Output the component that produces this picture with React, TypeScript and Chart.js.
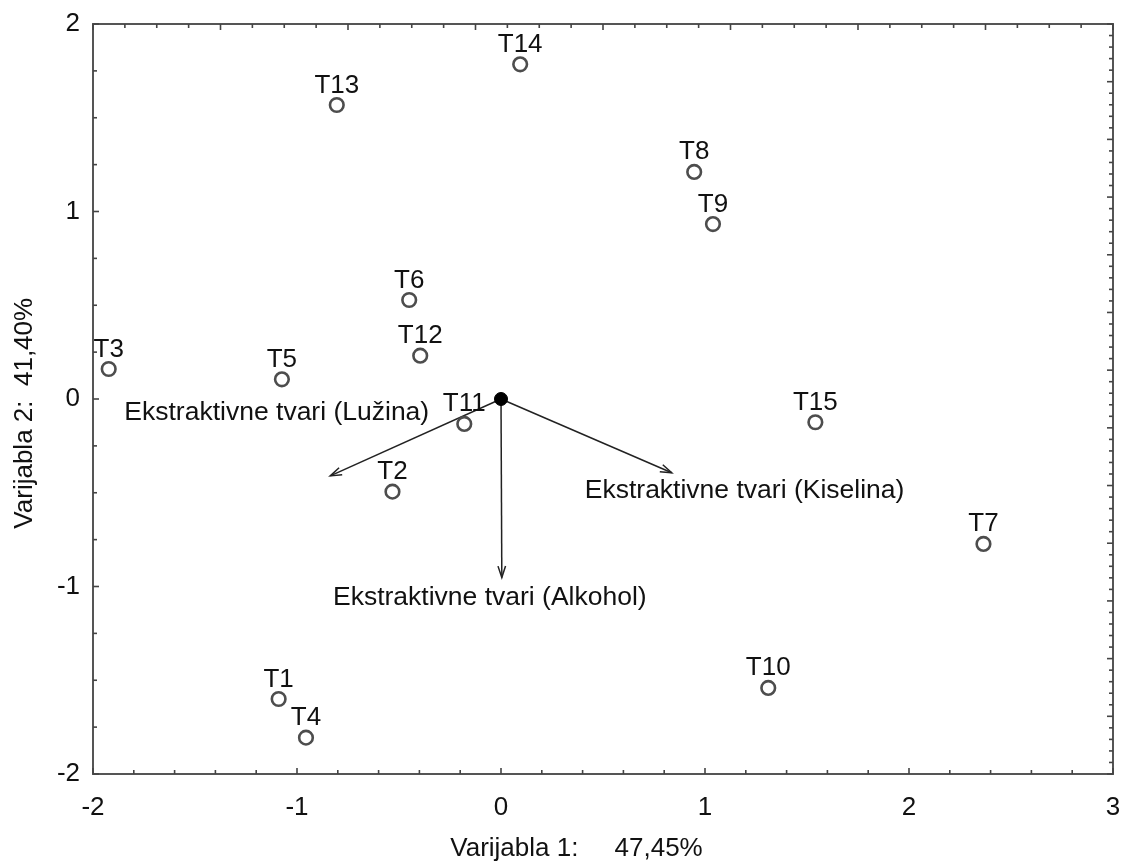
import { useEffect, useRef } from 'react';
import { Chart, registerables } from 'chart.js';

Chart.register(...registerables);

// ---- data ----
const pointLabels = ['T1', 'T2', 'T3', 'T4', 'T5', 'T6', 'T7', 'T8', 'T9', 'T10', 'T11', 'T12', 'T13', 'T14', 'T15'];
const pointX = [-1.09, -0.532, -1.923, -0.956, -1.074, -0.45, 2.365, 0.947, 1.039, 1.31, -0.18, -0.396, -0.805, 0.094, 1.541];
const pointY = [-1.6, -0.494, 0.16, -1.806, 0.105, 0.528, -0.773, 1.211, 0.933, -1.541, -0.133, 0.231, 1.568, 1.785, -0.124];

const loadingLabels = ['Ekstraktivne tvari (Lužina)', 'Ekstraktivne tvari (Kiselina)', 'Ekstraktivne tvari (Alkohol)'];
const loadingX = [-0.837, 0.837, 0.004];
const loadingY = [-0.41, -0.393, -0.952];

const xTickValues = [-2, -1, 0, 1, 2, 3];
const yTickValues = [-2, -1, 0, 1, 2];
const xTitle = 'Varijabla 1:     47,45%';
const yTitle = 'Varijabla 2:  41,40%';

// ---- styling ----
const FONT = "'Liberation Sans', Arial, sans-serif";
const TEXT = '#111';
const FRAME = '#555';
// pixel offsets of loading labels relative to arrow tips (centre x, baseline y)
const loadingLabelOffsets = [
  [-53.5, -56],
  [72.8, 25.3],
  [-12, 27],
];

function drawScaleTicks(ctx: any, scale: any, area: any, min: number, max: number, step: number, side: string) {
  const n = Math.round((max - min) / step);
  for (let i = 0; i <= n; i++) {
    const v = min + i * step;
    const major = Math.abs(v - Math.round(v)) < 1e-6;
    const len = major ? 6 : 4;
    const p = scale.getPixelForValue(v);
    ctx.beginPath();
    if (side === 'bottom') {
      ctx.moveTo(p, area.bottom);
      ctx.lineTo(p, area.bottom - len);
    } else if (side === 'top') {
      ctx.moveTo(p, area.top);
      ctx.lineTo(p, area.top + len);
    } else if (side === 'left') {
      ctx.moveTo(area.left, p);
      ctx.lineTo(area.left + len, p);
    } else {
      ctx.moveTo(area.right, p);
      ctx.lineTo(area.right - len, p);
    }
    ctx.stroke();
  }
}

const zeroPadding = (s: any) => {
  s.paddingLeft = 0;
  s.paddingRight = 0;
  s.paddingTop = 0;
  s.paddingBottom = 0;
};

const biplotPlugin = {
  id: 'biplot',
  beforeDatasetsDraw(chart: any) {
    const { ctx, scales } = chart;
    const ox = scales.x.getPixelForValue(0);
    const oy = scales.y.getPixelForValue(0);
    ctx.save();
    ctx.strokeStyle = '#222';
    ctx.lineWidth = 1.5;
    for (let i = 0; i < loadingX.length; i++) {
      const tx = scales.x.getPixelForValue(loadingX[i]);
      const ty = scales.y.getPixelForValue(loadingY[i]);
      ctx.beginPath();
      ctx.moveTo(ox, oy);
      ctx.lineTo(tx, ty);
      ctx.stroke();
      const ang = Math.atan2(ty - oy, tx - ox);
      const hl = 12;
      const ha = 0.32;
      ctx.beginPath();
      ctx.moveTo(tx - hl * Math.cos(ang - ha), ty - hl * Math.sin(ang - ha));
      ctx.lineTo(tx, ty);
      ctx.lineTo(tx - hl * Math.cos(ang + ha), ty - hl * Math.sin(ang + ha));
      ctx.stroke();
      ctx.fillStyle = TEXT;
      ctx.font = `26.5px ${FONT}`;
      ctx.textAlign = 'center';
      ctx.textBaseline = 'alphabetic';
      ctx.fillText(loadingLabels[i], tx + loadingLabelOffsets[i][0], ty + loadingLabelOffsets[i][1]);
    }
    ctx.restore();
  },
  afterDatasetsDraw(chart: any) {
    const { ctx } = chart;
    const meta = chart.getDatasetMeta(0);
    ctx.save();
    ctx.fillStyle = TEXT;
    ctx.font = `26px ${FONT}`;
    ctx.textAlign = 'center';
    ctx.textBaseline = 'alphabetic';
    meta.data.forEach((el: any, i: number) => {
      ctx.fillText(pointLabels[i], el.x, el.y - 12.5);
    });
    ctx.restore();
  },
  afterDraw(chart: any) {
    const { ctx, chartArea: a, scales } = chart;
    ctx.save();
    ctx.strokeStyle = FRAME;
    ctx.lineWidth = 2;
    ctx.strokeRect(a.left, a.top, a.right - a.left, a.bottom - a.top);
    ctx.lineWidth = 1.6;
    ctx.strokeStyle = '#444';
    drawScaleTicks(ctx, scales.x, a, -2, 3, 0.2, 'bottom');
    drawScaleTicks(ctx, scales.y, a, -2, 2, 0.25, 'left');
    drawScaleTicks(ctx, scales.x2, a, 0, 8, 0.25, 'top');
    drawScaleTicks(ctx, scales.y2, a, 0, 13, 0.2, 'right');

    ctx.fillStyle = TEXT;
    ctx.font = `26px ${FONT}`;
    ctx.textAlign = 'center';
    ctx.textBaseline = 'alphabetic';
    ctx.fillText(xTitle, a.left + (a.right - a.left) * 0.474, a.bottom + 82);
    ctx.translate(32, a.top + (a.bottom - a.top) * 0.519);
    ctx.rotate(-Math.PI / 2);
    ctx.fillText(yTitle, 0, 0);
    ctx.restore();
  },
};

export default function App() {
  const ref = useRef<HTMLCanvasElement | null>(null);

  useEffect(() => {
    document.body.style.margin = '0';
    const canvas = ref.current;
    if (!canvas) return;
    const chart = new Chart(canvas, {
      type: 'scatter',
      data: {
        datasets: [
          {
            data: pointX.map((x, i) => ({ x, y: pointY[i] })),
            pointStyle: 'circle',
            pointRadius: 6.8,
            pointBorderWidth: 2.6,
            borderColor: '#4d4d4d',
            backgroundColor: 'rgba(255,255,255,0)',
            pointHoverRadius: 6.8,
          },
          {
            data: [{ x: 0, y: 0 }],
            pointRadius: 6.5,
            pointBorderWidth: 1,
            borderColor: '#000',
            backgroundColor: '#000',
          },
        ],
      },
      options: {
        responsive: false,
        animation: false,
        devicePixelRatio: 1,
        layout: { padding: 0 },
        plugins: { legend: { display: false }, title: { display: false }, tooltip: { enabled: false } },
        events: [],
        scales: {
          x: {
            type: 'linear',
            position: 'bottom',
            min: -2,
            max: 3,
            afterBuildTicks: (s: any) => {
              s.ticks = xTickValues.map((v) => ({ value: v }));
            },
            ticks: { font: { family: FONT, size: 26 }, color: TEXT, padding: 18, maxRotation: 0 },
            grid: { display: false, drawTicks: false },
            border: { display: false },
            afterFit: (s: any) => {
              s.height = 90;
              zeroPadding(s);
            },
          },
          y: {
            type: 'linear',
            position: 'left',
            min: -2,
            max: 2,
            afterBuildTicks: (s: any) => {
              s.ticks = yTickValues.map((v) => ({ value: v }));
            },
            ticks: { font: { family: FONT, size: 26 }, color: TEXT, padding: 13 },
            grid: { display: false, drawTicks: false },
            border: { display: false },
            afterFit: (s: any) => {
              s.width = 93;
              zeroPadding(s);
            },
          },
          x2: {
            type: 'linear',
            position: 'top',
            min: 0,
            max: 8,
            ticks: { display: false },
            grid: { display: false, drawTicks: false },
            border: { display: false },
            afterFit: (s: any) => {
              s.height = 24;
              zeroPadding(s);
            },
          },
          y2: {
            type: 'linear',
            position: 'right',
            min: 0,
            max: 13,
            ticks: { display: false },
            grid: { display: false, drawTicks: false },
            border: { display: false },
            afterFit: (s: any) => {
              s.width = 13;
              zeroPadding(s);
            },
          },
        },
      },
      plugins: [biplotPlugin],
    } as any);
    return () => chart.destroy();
  }, []);

  return (
    <div style={{ width: 1126, height: 864, background: '#fff' }}>
      <canvas ref={ref} width={1126} height={864} style={{ display: 'block' }} />
    </div>
  );
}
